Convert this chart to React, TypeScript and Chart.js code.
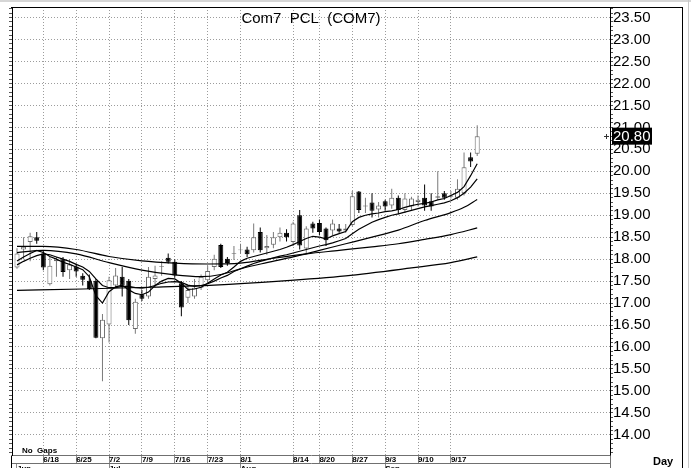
import React, { useEffect, useRef } from "react";
import { Chart, registerables } from "chart.js";

Chart.register(...registerables);

const FONT = '"Liberation Sans", Arial, Helvetica, sans-serif';

const TITLE = "Com7  PCL  (COM7)";
const NOTE = "No  Gaps";
const PERIOD = "Day";

// daily OHLC, one entry per trading day (index 0 = Jun 12)
const openP = [
  17.81, 18.22, 18.39, 18.5, 18.13, 17.43, 17.95, 18.0, 17.75, 17.83,
  17.62, 17.51, 17.51, 16.2, 16.51, 17.4, 17.6, 17.51, 16.41, 17.2,
  17.15, 17.55, 17.82, 18.03, 17.94, 17.45, 17.12, 17.15, 17.35, 17.52,
  17.82, 18.32, 18.01, 18.12, 18.2, 18.22, 18.2, 18.62, 18.25, 18.33,
  18.5, 18.6, 18.39, 19.0, 18.24, 18.81, 18.82, 18.7, 18.65, 18.7,
  18.65, 18.78, 19.54, 19.2, 19.29, 19.13, 19.32, 19.22, 19.4, 19.12,
  19.2, 19.3, 19.4, 19.32, 19.4, 19.5, 19.42, 19.4, 19.5, 20.32, 20.4,
];
const highP = [
  18.25, 18.5, 18.6, 18.62, 18.2, 18.05, 18.05, 18.05, 18.0, 17.9,
  17.68, 17.65, 17.55, 16.75, 17.6, 17.8, 17.82, 17.55, 17.1, 17.3,
  17.82, 17.85, 17.95, 18.13, 18.0, 17.5, 17.4, 17.55, 17.65, 17.85,
  18.1, 18.35, 18.05, 18.3, 18.35, 18.28, 18.81, 18.72, 18.55, 18.62,
  18.72, 18.68, 18.85, 19.12, 18.75, 18.85, 18.9, 18.72, 18.9, 18.8,
  18.8, 19.55, 19.55, 19.4, 19.5, 19.3, 19.35, 19.6, 19.45, 19.5,
  19.42, 19.45, 19.7, 19.5, 20.0, 19.55, 19.55, 19.82, 20.43, 20.43, 21.05,
];
const lowP = [
  17.78, 18.0, 17.95, 18.35, 17.75, 17.4, 17.6, 17.6, 17.55, 17.6,
  17.4, 17.3, 16.2, 15.22, 16.1, 17.35, 17.15, 16.5, 16.3, 17.05,
  17.1, 17.35, 17.62, 17.9, 17.58, 16.7, 17.0, 17.1, 17.3, 17.45,
  17.75, 17.8, 17.85, 17.98, 18.12, 18.05, 18.15, 18.15, 18.1, 18.25,
  18.4, 18.4, 18.3, 18.22, 18.12, 18.6, 18.55, 18.3, 18.55, 18.6,
  18.6, 18.75, 19.05, 19.05, 18.95, 18.95, 19.1, 19.15, 19.02, 19.05,
  19.1, 19.2, 19.1, 19.1, 19.35, 19.35, 19.38, 19.35, 19.45, 20.1, 20.35,
];
const closeP = [
  18.13, 18.28, 18.52, 18.42, 17.81, 17.85, 17.98, 17.71, 17.88, 17.72,
  17.53, 17.32, 16.21, 16.62, 17.52, 17.63, 17.4, 16.61, 17.03, 17.1,
  17.6, 17.63, 17.84, 17.94, 17.63, 16.9, 17.3, 17.35, 17.6, 17.73,
  18.01, 17.82, 17.91, 18.14, 18.22, 18.11, 18.5, 18.2, 18.3, 18.5,
  18.6, 18.5, 18.81, 18.31, 18.7, 18.7, 18.62, 18.43, 18.81, 18.63,
  18.7, 19.43, 19.12, 19.22, 19.1, 19.22, 19.2, 19.4, 19.12, 19.38,
  19.38, 19.35, 19.22, 19.2, 19.43, 19.4, 19.45, 19.6, 20.09, 20.22, 20.8,
];

// moving averages
const maFast = [
  17.96, 18.05, 18.13, 18.2, 18.15, 18.06, 18.0, 17.93, 17.88, 17.82,
  17.76, 17.6, 17.17, 17.0, 17.26, 17.37, 17.41, 17.3, 17.22, 17.19,
  17.25, 17.4, 17.5, 17.56, 17.55, 17.45, 17.31, 17.32, 17.36, 17.45,
  17.55, 17.64, 17.7, 17.82, 17.95, 18.02, 18.06, 18.1, 18.14, 18.18,
  18.22, 18.27, 18.33, 18.4, 18.47, 18.52, 18.5, 18.46, 18.53, 18.58,
  18.63, 18.85, 18.95, 19.0, 19.03, 19.05, 19.08, 19.1, 19.13, 19.18,
  19.22, 19.25, 19.27, 19.3, 19.35, 19.38, 19.45, 19.52, 19.65, 19.9, 20.17,
];
const maShort = [
  17.87, 17.95, 18.02, 18.08, 18.12, 18.1, 18.05, 18.0, 17.95, 17.88,
  17.82, 17.72, 17.55, 17.4, 17.35, 17.35, 17.38, 17.38, 17.35, 17.34,
  17.36, 17.4, 17.45, 17.48, 17.49, 17.47, 17.41, 17.38, 17.4, 17.44,
  17.5, 17.57, 17.63, 17.72, 17.78, 17.84, 17.9, 17.95, 17.99, 18.03,
  18.07, 18.1, 18.14, 18.18, 18.22, 18.26, 18.3, 18.33, 18.37, 18.42,
  18.47, 18.58, 18.68, 18.76, 18.84, 18.9, 18.95, 19.0, 19.03, 19.07,
  19.11, 19.15, 19.19, 19.22, 19.25, 19.28, 19.33, 19.4, 19.5, 19.64, 19.83,
];
const maMidIdx = [0, 4, 9, 14, 19, 24, 28, 31, 34, 38, 42, 46, 50, 54, 58, 62, 66, 68, 70];
const maMidVal = [18.15, 18.2, 18.12, 17.92, 17.75, 17.64, 17.6, 17.65, 17.78, 17.92, 18.05, 18.2, 18.35, 18.5, 18.66, 18.88, 19.06, 19.18, 19.36];
const maLongIdx = [0, 4, 9, 14, 19, 24, 29, 34, 39, 44, 49, 54, 58, 62, 66, 70];
const maLongVal = [18.29, 18.29, 18.22, 18.06, 17.96, 17.91, 17.89, 17.91, 18.02, 18.12, 18.2, 18.28, 18.35, 18.45, 18.56, 18.71];
const maSlowIdx = [0, 10, 20, 30, 40, 50, 60, 66, 70];
const maSlowVal = [17.29, 17.32, 17.36, 17.41, 17.5, 17.62, 17.8, 17.92, 18.05];

// axis labels
const weekTickIdx = [4, 9, 14, 19, 24, 29, 34, 42, 46, 51, 56, 61, 66];
const weekLabels = ["6/18", "6/25", "7/2", "7/9", "7/16", "7/23", "8/1", "8/14", "8/20", "8/27", "9/3", "9/10", "9/17"];
const monthTickIdx = [0, 14, 34, 56];
const monthLabels = ["Jun", "Jul", "Aug", "Sep"];
const priceTicks = [14.0, 14.5, 15.0, 15.5, 16.0, 16.5, 17.0, 17.5, 18.0, 18.5, 19.0, 19.5, 20.0, 20.5, 21.0, 21.5, 22.0, 22.5, 23.0, 23.5];

const X_MIN = -0.76;
const X_MAX = 90.2;
const Y_MIN = 13.53;
const Y_MAX = 23.74;

const zeroPad = (s: any) => {
  s.paddingLeft = 0;
  s.paddingRight = 0;
  s.paddingTop = 0;
  s.paddingBottom = 0;
};
const minorTicks = (s: any) => {
  const t: any[] = [];
  for (let k = 136; k <= 237; k++) t.push({ value: k / 10 });
  s.ticks = t;
};

const overlay = {
  id: "overlay",
  afterDraw(chart: any) {
    const { ctx, chartArea: ca, scales } = chart;
    const ys = scales.y;
    ctx.save();
    // top band
    ctx.fillStyle = "#d6d6d6";
    ctx.fillRect(0, 0, chart.width, 2);
    ctx.lineWidth = 1;
    // frame
    ctx.strokeStyle = "#000";
    ctx.beginPath();
    ctx.moveTo(ca.left - 1, ca.top + 0.5);
    ctx.lineTo(ys.right, ca.top + 0.5);
    ctx.moveTo(ys.right - 0.5, ca.top);
    ctx.lineTo(ys.right - 0.5, chart.height);
    ctx.moveTo(ca.left - 0.5, ca.bottom);
    ctx.lineTo(ca.left - 0.5, chart.height);
    ctx.stroke();
    ctx.strokeStyle = "#c8c8c8";
    ctx.beginPath();
    ctx.moveTo(ys.right + 5.5, 0);
    ctx.lineTo(ys.right + 5.5, chart.height);
    ctx.stroke();
    ctx.strokeStyle = "#707070";
    ctx.beginPath();
    ctx.moveTo(ca.right + 0.5, ca.bottom);
    ctx.lineTo(ca.right + 0.5, chart.height);
    ctx.stroke();
    // title
    ctx.fillStyle = "#000";
    ctx.font = `15px ${FONT}`;
    ctx.textAlign = "center";
    ctx.textBaseline = "alphabetic";
    ctx.fillText(TITLE, (ca.left + ca.right) / 2, 23);
    // notes
    ctx.textAlign = "left";
    ctx.textBaseline = "middle";
    ctx.font = `bold 8px ${FONT}`;
    ctx.fillText(NOTE, ca.left + 10, ca.bottom - 5);
    ctx.font = `bold 11px ${FONT}`;
    ctx.fillText(PERIOD, ys.left + 40, ca.bottom + 6);
    // last price
    const last = closeP[closeP.length - 1];
    const py = ys.getPixelForValue(last);
    ctx.fillStyle = "#000";
    ctx.fillRect(ys.left - 1, py - 8.5, 40, 17);
    ctx.fillStyle = "#fff";
    ctx.font = `15px ${FONT}`;
    ctx.fillText(last.toFixed(2), ys.left, py + 0.5);
    ctx.strokeStyle = "#333";
    ctx.beginPath();
    ctx.moveTo(ca.right - 6, Math.round(py) + 0.5);
    ctx.lineTo(ca.right - 1, Math.round(py) + 0.5);
    ctx.moveTo(ca.right - 3.5, Math.round(py) - 2);
    ctx.lineTo(ca.right - 3.5, Math.round(py) + 3);
    ctx.stroke();
    ctx.restore();
  },
};

export default function App() {
  const ref = useRef<HTMLCanvasElement>(null);

  useEffect(() => {
    document.body.style.margin = "0";
    const canvas = ref.current;
    if (!canvas) return;
    const idx = closeP.map((_, i) => i);
    const up = idx.map((i) => closeP[i] >= openP[i]);

    const wickData = idx.map((i) => ({ x: i, y: [lowP[i], highP[i]] }));
    const bodyData = idx.map((i) => ({
      x: i,
      y: [Math.min(openP[i], closeP[i]), Math.max(openP[i], closeP[i])],
    }));
    const fullLine = (arr: number[]) => arr.map((v, i) => ({ x: i, y: v }));
    const sparseLine = (ix: number[], vals: number[]) => ix.map((x, k) => ({ x, y: vals[k] }));

    const lineBase = {
      type: "line",
      borderColor: "#000",
      borderWidth: 1.2,
      pointRadius: 0,
      fill: false,
      order: 0,
      xAxisID: "x",
      yAxisID: "y",
    };

    const chart = new Chart(canvas, {
      type: "bar",
      data: {
        datasets: [
          {
            type: "bar",
            data: wickData,
            backgroundColor: idx.map((i) => (up[i] ? "#7a7a7a" : "#000")),
            borderWidth: 0,
            barThickness: 1,
            grouped: false,
            inflateAmount: 0,
            order: 2,
            xAxisID: "x",
            yAxisID: "y",
          },
          {
            type: "bar",
            data: bodyData,
            backgroundColor: idx.map((i) => (up[i] ? "#fff" : "#000")),
            borderColor: idx.map((i) => (up[i] ? "#6a6a6a" : "#000")),
            borderWidth: 1,
            borderSkipped: false,
            barThickness: 5,
            grouped: false,
            inflateAmount: 0,
            order: 1,
            xAxisID: "x",
            yAxisID: "y",
          },
          { ...lineBase, data: sparseLine(maSlowIdx, maSlowVal), cubicInterpolationMode: "monotone" },
          { ...lineBase, data: sparseLine(maLongIdx, maLongVal), cubicInterpolationMode: "monotone" },
          { ...lineBase, data: sparseLine(maMidIdx, maMidVal), cubicInterpolationMode: "monotone" },
          { ...lineBase, data: fullLine(maShort), tension: 0 },
          { ...lineBase, data: fullLine(maFast), tension: 0 },
        ] as any,
      },
      options: {
        responsive: false,
        animation: false,
        devicePixelRatio: 1,
        events: [],
        layout: { padding: { left: 8, right: 8, top: 7, bottom: 0 } },
        plugins: {
          legend: { display: false },
          tooltip: { enabled: false },
          title: { display: false },
        },
        scales: {
          x: {
            type: "linear",
            axis: "x",
            position: "bottom",
            weight: 0,
            min: X_MIN,
            max: X_MAX,
            offset: false,
            afterBuildTicks: (s: any) => {
              s.ticks = weekTickIdx.map((v) => ({ value: v }));
            },
            afterFit: (s: any) => {
              s.height = 8;
              zeroPad(s);
            },
            ticks: {
              autoSkip: false,
              maxRotation: 0,
              minRotation: 0,
              align: "start",
              padding: -9,
              color: "#000",
              font: { family: FONT, size: 8, weight: "bold" },
              callback: (_v: any, i: number) => weekLabels[i],
            },
            grid: {
              color: "#9c9c9c",
              lineWidth: 1,
              offset: false,
              drawTicks: true,
              tickLength: 8,
              tickColor: "#8c8c8c",
            },
            border: { display: true, color: "#707070", dash: [1, 2] },
          },
          x2: {
            type: "linear",
            axis: "x",
            position: "bottom",
            weight: 1,
            min: X_MIN,
            max: X_MAX,
            offset: false,
            afterBuildTicks: (s: any) => {
              s.ticks = monthTickIdx.map((v) => ({ value: v }));
            },
            afterFit: (s: any) => {
              s.height = 4.5;
              zeroPad(s);
            },
            ticks: {
              autoSkip: false,
              maxRotation: 0,
              minRotation: 0,
              align: "start",
              padding: -12,
              color: "#000",
              font: { family: FONT, size: 8, weight: "bold" },
              callback: (_v: any, i: number) => monthLabels[i],
            },
            grid: {
              drawOnChartArea: false,
              offset: false,
              drawTicks: true,
              tickLength: 12,
              tickColor: "#8c8c8c",
              color: "#8c8c8c",
            },
            border: { display: true, color: "#707070" },
          },
          yl: {
            type: "linear",
            axis: "y",
            position: "left",
            min: Y_MIN,
            max: Y_MAX,
            afterBuildTicks: minorTicks,
            afterFit: (s: any) => {
              s.width = 4;
              zeroPad(s);
            },
            ticks: { display: false },
            grid: { drawOnChartArea: false, drawTicks: true, tickLength: 3, tickColor: "#555" },
            border: { display: true, color: "#000" },
          },
          ym: {
            type: "linear",
            axis: "y",
            position: "right",
            weight: 0,
            min: Y_MIN,
            max: Y_MAX,
            afterBuildTicks: minorTicks,
            afterFit: (s: any) => {
              s.width = 3;
              zeroPad(s);
            },
            ticks: { display: false },
            grid: { drawOnChartArea: false, drawTicks: true, tickLength: 3, tickColor: "#555" },
            border: { display: true, color: "#000" },
          },
          y: {
            type: "linear",
            axis: "y",
            position: "right",
            weight: 1,
            min: Y_MIN,
            max: Y_MAX,
            afterBuildTicks: (s: any) => {
              s.ticks = priceTicks.map((v) => ({ value: v }));
            },
            afterFit: (s: any) => {
              s.width = 70;
              zeroPad(s);
            },
            ticks: {
              color: "#000",
              padding: 0,
              crossAlign: "near",
              font: { family: FONT, size: 15 },
              callback: (v: any) => Number(v).toFixed(2),
            },
            grid: { color: "#9c9c9c", lineWidth: 1, drawTicks: false, drawOnChartArea: true },
            border: { display: false, dash: [1, 2] },
          },
        },
      } as any,
      plugins: [overlay],
    });

    return () => chart.destroy();
  }, []);

  return (
    <div
      style={{
        position: "fixed",
        left: 0,
        top: 0,
        width: 691,
        height: 468,
        overflow: "hidden",
        background: "#fff",
      }}
    >
      <canvas ref={ref} width={691} height={468} style={{ display: "block", width: 691, height: 468 }} />
    </div>
  );
}
